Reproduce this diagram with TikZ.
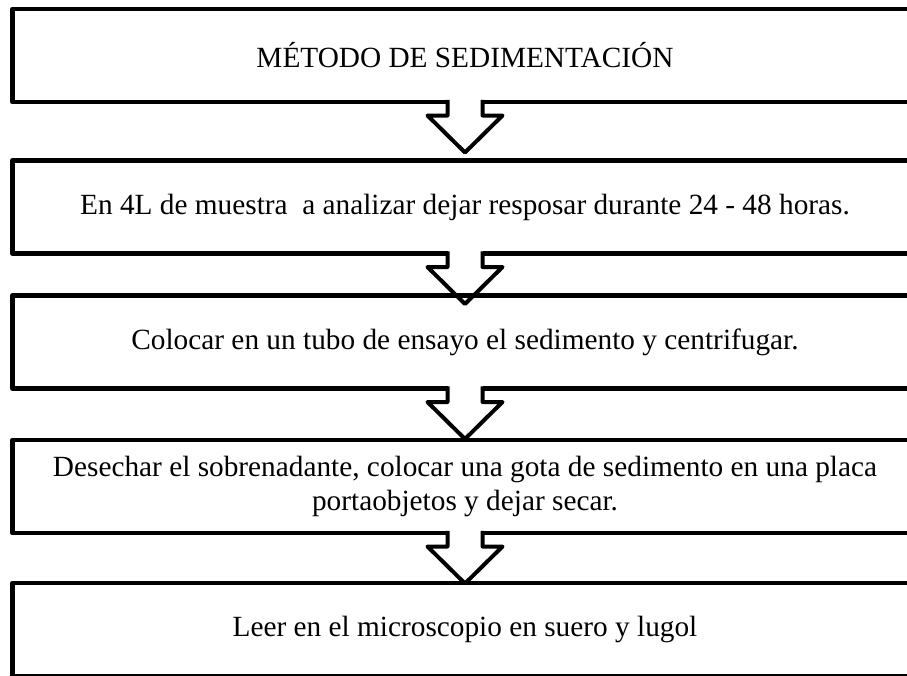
\documentclass[tikz,border=0pt]{standalone}
\usepackage{fontspec}
\setmainfont{Liberation Serif}
\usetikzlibrary{calc}
\begin{document}
\begin{tikzpicture}[x=1pt,y=-1pt]

\newcommand{\lx}{905}
\newcommand{\ly}{93}
\newcommand{\cx}{465}
\newcommand{\lt}{17.5}
\newcommand{\lc}{37.5}
\newcommand{\lh}{13.5}
\newcommand{\lf}{37}

\tikzstyle{etapa}=[minimum width=\lx,minimum height=\ly,inner sep=0,outer sep=0,align=center,font=\fontsize{29.3}{34}\selectfont]
\tikzstyle{marco}=[line width=4.5,line join=round]
\tikzstyle{borde}=[line width=4,line join=round]

\useasboundingbox (0,0) rectangle (907,675);
\clip (0,0) rectangle (907,675);

\node[etapa] (metodo) at (\cx,55.5) {MÉTODO DE SEDIMENTACIÓN};
\node[etapa] (reposo) at (\cx,207) {En 4L de muestra\ \ a analizar dejar resposar durante 24 - 48 horas.};
\node[etapa] (tubo) at (\cx,342) {Colocar en un tubo de ensayo el sedimento y centrifugar.};
\node[etapa] (gota) at (\cx,486.5) {Desechar el sobrenadante, colocar una gota de sedimento en una placa\\ portaobjetos y dejar secar.};
\node[etapa] (lectura) at (\cx,629.5) {Leer en el microscopio en suero y lugol};

% marcos abiertos a la derecha (el borde derecho queda fuera)
\foreach \n in {metodo,reposo,tubo,gota,lectura}
{
    \draw[marco] ($(\n.north east)+(40,0)$) -- (\n.north west) -- (\n.south west) -- ($(\n.south east)+(40,0)$);
}

\newcommand{\flecha}[1]{
    \fill[white] ($(#1.south)+(-\lt,-3)$) rectangle ($(#1.south)+(\lt,\lh)$);
    \draw[borde] ($(#1.south)+(-\lt,-2.25)$) -- ++(0,{\lh+2.25}) -- ++({\lt-\lc},0)
        -- ($(#1.south)+(0,{\lh+\lf})$)
        -- ($(#1.south)+(\lc,\lh)$) -- ++({\lt-\lc},0) -- ++(0,{-\lh-2.25});
}

\flecha{metodo}
\flecha{reposo}
\flecha{tubo}
\flecha{gota}

\end{tikzpicture}
\end{document}
